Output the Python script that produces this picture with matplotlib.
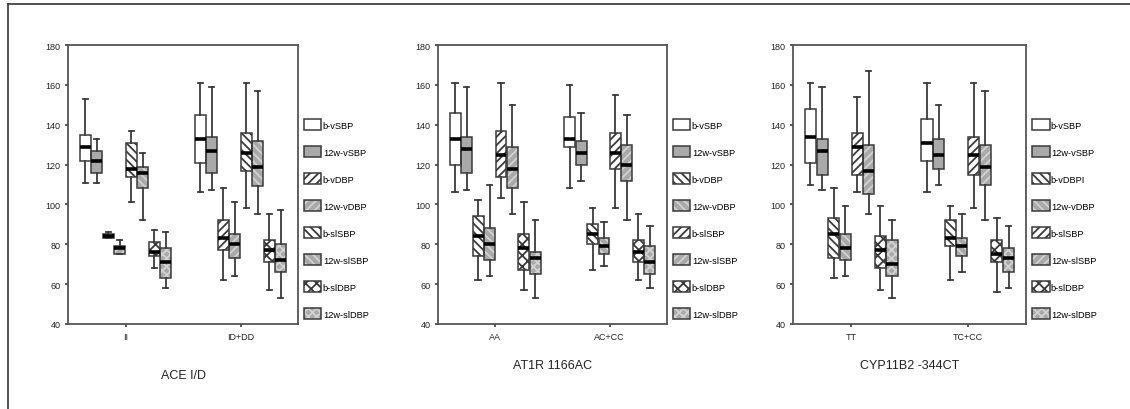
import numpy as np
import matplotlib.pyplot as plt
from matplotlib.patches import Patch, PathPatch
from matplotlib.lines import Line2D

plt.rcParams['font.family'] = ['Liberation Sans', 'DejaVu Sans']
plt.rcParams['hatch.linewidth'] = 1.3

# box order inside each group: b-vSBP, 12w-vSBP, b-vDBP, 12w-vDBP, b-slSBP, 12w-slSBP, b-slDBP, 12w-slDBP
# first 8 values = first genotype group, last 8 = second group

# ACE I/D
ace_groups = ["II", "ID+DD"]
ace_hi = [153, 133, 86, 82, 137, 126, 87, 86, 161, 159, 108, 101, 161, 157, 95, 97]
ace_q3 = [135, 127, 85, 79, 131, 119, 81, 78, 145, 134, 92, 85, 136, 132, 82, 80]
ace_med = [129, 122, 84, 78, 118, 116, 76, 71, 133, 127, 83, 80, 126, 119, 77, 72]
ace_q1 = [122, 116, 83, 75, 114, 108, 74, 63, 121, 116, 77, 73, 117, 109, 71, 66]
ace_lo = [111, 111, 83, 75, 101, 92, 68, 58, 106, 107, 62, 64, 98, 95, 57, 53]

# AT1R 1166AC
at1r_groups = ["AA", "AC+CC"]
at1r_hi = [161, 159, 102, 110, 161, 150, 101, 92, 160, 146, 98, 91, 155, 145, 95, 89]
at1r_q3 = [146, 134, 94, 88, 137, 129, 85, 76, 144, 132, 90, 83, 136, 130, 82, 79]
at1r_med = [133, 128, 84, 80, 125, 118, 78, 73, 133, 126, 85, 79, 126, 120, 76, 71]
at1r_q1 = [120, 116, 74, 72, 114, 108, 67, 65, 129, 120, 80, 75, 118, 112, 71, 65]
at1r_lo = [106, 107, 62, 64, 103, 95, 57, 53, 108, 112, 67, 69, 98, 92, 62, 58]

# CYP11B2 -344CT
cyp_groups = ["TT", "TC+CC"]
cyp_hi = [161, 159, 108, 99, 154, 167, 99, 92, 161, 150, 99, 95, 161, 157, 93, 89]
cyp_q3 = [148, 133, 93, 85, 136, 130, 84, 82, 143, 133, 92, 83, 134, 130, 82, 78]
cyp_med = [134, 127, 85, 78, 129, 117, 77, 70, 131, 125, 83, 79, 125, 119, 75, 73]
cyp_q1 = [121, 115, 73, 72, 115, 105, 68, 64, 122, 118, 79, 74, 115, 110, 71, 66]
cyp_lo = [110, 107, 63, 64, 106, 95, 57, 53, 106, 110, 62, 66, 98, 92, 56, 58]

labels_a = ["b-vSBP", "12w-vSBP", "b-vDBP", "12w-vDBP",
            "b-slSBP", "12w-slSBP", "b-slDBP", "12w-slDBP"]
labels_c = ["b-vSBP", "12w-vSBP", "b-vDBPI", "12w-vDBP",
            "b-slSBP", "12w-slSBP", "b-slDBP", "12w-slDBP"]

EDGE = "#3a3a3a"
GRAY = "#a9a9a9"
LIGHT = "#d2d2d2"
FWD = "////"
BCK = "\\\\\\\\"
hatch_ace = [None, None, FWD, FWD, BCK, BCK, "xxx", "xxxx"]
hatch_other = [None, None, BCK, BCK, FWD, FWD, "xxx", "xxxx"]


def draw_panel(fig, rect, groups, hi, q3, med, q1, lo, hatches, labels, title, title_y):
    ax = fig.add_axes(rect)
    stats, pos, fills, hcols = [], [], [], []
    for g in range(2):
        for i in range(8):
            k = g * 8 + i
            stats.append(dict(med=med[k], q1=q1[k], q3=q3[k],
                              whislo=lo[k], whishi=hi[k]))
            pos.append(g + 1 + (i - 3.5) * 0.1)
            fills.append("white" if i % 2 == 0 else GRAY)
            hcols.append(EDGE if i % 2 == 0 else LIGHT)
    bp = ax.bxp(stats, positions=pos, widths=0.095, patch_artist=True,
                showfliers=False, manage_ticks=False,
                whiskerprops=dict(color=EDGE, lw=1.3),
                capprops=dict(color=EDGE, lw=1.3),
                medianprops=dict(color="black", lw=2.6, solid_capstyle="butt"),
                boxprops=dict(lw=0))
    for j, box in enumerate(bp["boxes"]):
        box.set_facecolor(fills[j])
        box.set_edgecolor(hcols[j])
        box.set_hatch(hatches[j % 8])
        box.set_linewidth(0)
        ax.add_patch(PathPatch(box.get_path(), fill=False, ec=EDGE, lw=1.1, zorder=2.5))
    for m in bp["medians"]:
        m.set_zorder(3)

    ax.set_xlim(0.5, 2.5)
    ax.set_ylim(40, 180)
    ax.set_yticks(np.arange(40, 181, 20))
    ax.set_xticks([1, 2])
    ax.set_xticklabels(groups)
    ax.tick_params(labelsize=6.5, length=2.5, width=1.2, color=EDGE, labelcolor="#222222", pad=3)
    for s in ax.spines.values():
        s.set_color("#555555")
        s.set_linewidth(1.3)

    handles = []
    for i in range(8):
        fill = "white" if i % 2 == 0 else GRAY
        hc = EDGE if i % 2 == 0 else LIGHT
        handles.append((Patch(facecolor=fill, edgecolor=hc, hatch=hatches[i], lw=0),
                        Patch(fill=False, edgecolor=EDGE, lw=1.1)))
    ax.legend(handles, labels, loc="upper left", bbox_to_anchor=(1.025, 0.735),
              borderaxespad=0, borderpad=0, frameon=False, fontsize=6.7,
              handlelength=1.9, handleheight=1.45, handletextpad=0.15,
              labelspacing=1.72)
    fig.text(rect[0] + rect[2] / 2, title_y, title, ha="center", va="center",
             fontsize=9, color="#222222")
    return ax


def main():
    W, H = 1130, 410
    fig = plt.figure(figsize=(W / 100, H / 100), dpi=100)
    bottom = (H - 325) / H
    height = 279 / H

    draw_panel(fig, [68 / W, bottom, 230 / W, height], ace_groups,
               ace_hi, ace_q3, ace_med, ace_q1, ace_lo, hatch_ace, labels_a,
               "ACE I/D", 1 - 376 / H)
    draw_panel(fig, [438 / W, bottom, 229 / W, height], at1r_groups,
               at1r_hi, at1r_q3, at1r_med, at1r_q1, at1r_lo, hatch_other, labels_a,
               "AT1R 1166AC", 1 - 366 / H)
    draw_panel(fig, [793 / W, bottom, 233 / W, height], cyp_groups,
               cyp_hi, cyp_q3, cyp_med, cyp_q1, cyp_lo, hatch_other, labels_c,
               "CYP11B2 -344CT", 1 - 366 / H)

    # frame of the scanned figure (left and top edges only)
    fig.add_artist(Line2D([7.5 / W, 7.5 / W], [0, 1 - 5 / H], color="#333333", lw=1.2))
    fig.add_artist(Line2D([7.5 / W, 1], [1 - 5 / H, 1 - 5 / H], color="#333333", lw=1.2))

    fig.savefig("out.png", dpi=100)


if __name__ == "__main__":
    main()
